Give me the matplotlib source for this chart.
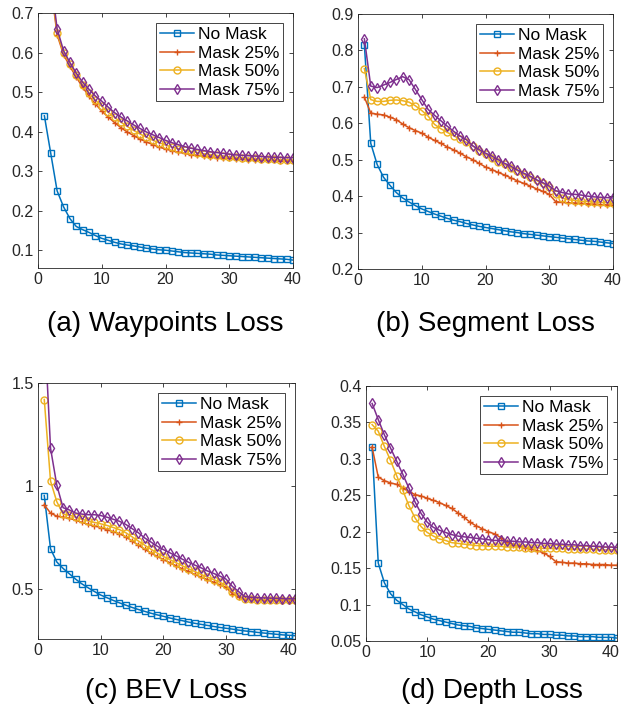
import numpy as np
import matplotlib
matplotlib.use("Agg")
import matplotlib.pyplot as plt
from matplotlib.ticker import FormatStrFormatter

plt.rcParams["font.family"] = ["Liberation Sans", "DejaVu Sans"]

labels = ['No Mask', 'Mask 25%', 'Mask 50%', 'Mask 75%']
colors = ['#0072BD', '#D95319', '#EDB120', '#7E2F8E']
markers = ['s', '+', 'o', 'd']

# (a) Waypoints Loss, epochs 1..40
wp_none = [0.44, 0.345, 0.25, 0.21, 0.18, 0.16, 0.152, 0.145, 0.137, 0.13,
           0.125, 0.12, 0.116, 0.113, 0.111, 0.108, 0.105, 0.103, 0.101, 0.1,
           0.098, 0.096, 0.094, 0.093, 0.092, 0.091, 0.09, 0.088, 0.087, 0.086,
           0.085, 0.084, 0.083, 0.082, 0.081, 0.08, 0.079, 0.078, 0.077, 0.075]
wp_25 = [0.95, 0.77, 0.645, 0.595, 0.565, 0.538, 0.512, 0.49, 0.47, 0.452,
         0.437, 0.423, 0.41, 0.399, 0.39, 0.381, 0.374, 0.367, 0.361, 0.356,
         0.352, 0.348, 0.345, 0.342, 0.34, 0.338, 0.336, 0.334, 0.333, 0.332,
         0.331, 0.33, 0.329, 0.329, 0.328, 0.327, 0.327, 0.326, 0.326, 0.325]
wp_50 = [0.96, 0.78, 0.65, 0.6, 0.57, 0.542, 0.518, 0.498, 0.48, 0.464,
         0.449, 0.436, 0.424, 0.413, 0.403, 0.394, 0.386, 0.378, 0.372, 0.366,
         0.361, 0.357, 0.353, 0.35, 0.347, 0.344, 0.342, 0.34, 0.338, 0.336,
         0.335, 0.334, 0.333, 0.332, 0.331, 0.33, 0.33, 0.329, 0.329, 0.328]
wp_75 = [0.97, 0.79, 0.66, 0.605, 0.575, 0.548, 0.525, 0.507, 0.49, 0.477,
         0.462, 0.448, 0.437, 0.427, 0.417, 0.408, 0.399, 0.392, 0.385, 0.378,
         0.372, 0.367, 0.362, 0.358, 0.355, 0.352, 0.349, 0.347, 0.345, 0.343,
         0.341, 0.34, 0.339, 0.338, 0.337, 0.336, 0.335, 0.335, 0.334, 0.334]

# (b) Segment Loss, epochs 1..40
seg_none = [0.815, 0.545, 0.487, 0.452, 0.43, 0.41, 0.395, 0.384, 0.374, 0.365,
            0.358, 0.351, 0.345, 0.339, 0.334, 0.33, 0.325, 0.321, 0.317, 0.314,
            0.311, 0.308, 0.305, 0.302, 0.3, 0.297, 0.295, 0.293, 0.291, 0.289,
            0.287, 0.285, 0.283, 0.281, 0.279, 0.277, 0.276, 0.274, 0.272, 0.27]
seg_25 = [0.672, 0.628, 0.625, 0.623, 0.617, 0.61, 0.598, 0.588, 0.58, 0.573,
          0.562, 0.553, 0.545, 0.535, 0.527, 0.518, 0.508, 0.5, 0.49, 0.48,
          0.473, 0.465, 0.458, 0.45, 0.442, 0.435, 0.428, 0.42, 0.413, 0.405,
          0.385, 0.383, 0.382, 0.381, 0.38, 0.379, 0.378, 0.377, 0.376, 0.375]
seg_50 = [0.75, 0.665, 0.66, 0.66, 0.663, 0.664, 0.662, 0.658, 0.648, 0.635,
          0.62, 0.597, 0.585, 0.575, 0.566, 0.556, 0.548, 0.538, 0.525, 0.515,
          0.505, 0.495, 0.487, 0.478, 0.47, 0.46, 0.452, 0.443, 0.435, 0.425,
          0.405, 0.395, 0.39, 0.388, 0.386, 0.385, 0.384, 0.383, 0.382, 0.38]
seg_75 = [0.832, 0.702, 0.698, 0.705, 0.712, 0.72, 0.728, 0.72, 0.693, 0.665,
          0.638, 0.622, 0.607, 0.592, 0.578, 0.565, 0.555, 0.538, 0.528, 0.518,
          0.51, 0.5, 0.49, 0.482, 0.472, 0.463, 0.455, 0.445, 0.437, 0.428,
          0.415, 0.41, 0.406, 0.405, 0.403, 0.4, 0.398, 0.397, 0.396, 0.395]

# (c) BEV Loss, epochs 1..41
bev_none = [0.955, 0.697, 0.633, 0.602, 0.576, 0.55, 0.527, 0.508, 0.49, 0.473,
            0.46, 0.447, 0.435, 0.424, 0.413, 0.403, 0.394, 0.385, 0.377, 0.37,
            0.362, 0.355, 0.349, 0.342, 0.336, 0.331, 0.326, 0.321, 0.316, 0.312,
            0.308, 0.303, 0.299, 0.296, 0.292, 0.289, 0.286, 0.283, 0.28, 0.278, 0.276]
bev_25 = [0.91, 0.87, 0.855, 0.85, 0.845, 0.835, 0.825, 0.815, 0.808, 0.8,
          0.79, 0.78, 0.77, 0.755, 0.735, 0.715, 0.695, 0.677, 0.66, 0.645,
          0.63, 0.615, 0.6, 0.587, 0.573, 0.56, 0.548, 0.535, 0.523, 0.51,
          0.48, 0.462, 0.455, 0.452, 0.451, 0.45, 0.45, 0.449, 0.449, 0.448, 0.448]
bev_50 = [1.42, 1.025, 0.925, 0.865, 0.86, 0.85, 0.84, 0.832, 0.825, 0.818,
          0.81, 0.8, 0.79, 0.775, 0.755, 0.735, 0.715, 0.695, 0.677, 0.66,
          0.645, 0.63, 0.615, 0.6, 0.587, 0.573, 0.56, 0.548, 0.535, 0.52,
          0.49, 0.47, 0.455, 0.452, 0.451, 0.45, 0.45, 0.45, 0.449, 0.449, 0.449]
bev_75 = [1.8, 1.184, 1.005, 0.896, 0.885, 0.87, 0.865, 0.862, 0.862, 0.858,
          0.85, 0.84, 0.83, 0.815, 0.795, 0.775, 0.75, 0.73, 0.71, 0.693,
          0.678, 0.663, 0.647, 0.632, 0.618, 0.605, 0.59, 0.578, 0.565, 0.55,
          0.515, 0.49, 0.465, 0.462, 0.46, 0.459, 0.458, 0.457, 0.456, 0.455, 0.455]

# (d) Depth Loss, epochs 1..41
dep_none = [0.316, 0.157, 0.13, 0.115, 0.106, 0.1, 0.094, 0.09, 0.086, 0.083,
            0.08, 0.078, 0.076, 0.074, 0.072, 0.071, 0.07, 0.068, 0.067, 0.066,
            0.065, 0.064, 0.063, 0.062, 0.062, 0.061, 0.06, 0.06, 0.059, 0.059,
            0.058, 0.058, 0.057, 0.057, 0.056, 0.056, 0.056, 0.055, 0.055, 0.055, 0.054]
dep_25 = [0.316, 0.275, 0.27, 0.267, 0.265, 0.26, 0.255, 0.251, 0.249, 0.246,
          0.243, 0.24, 0.236, 0.232, 0.226, 0.22, 0.213, 0.208, 0.204, 0.2,
          0.197, 0.192, 0.186, 0.182, 0.18, 0.178, 0.176, 0.174, 0.171, 0.166,
          0.159, 0.158, 0.157, 0.157, 0.156, 0.156, 0.155, 0.155, 0.155, 0.154, 0.154]
dep_50 = [0.347, 0.338, 0.317, 0.298, 0.277, 0.257, 0.236, 0.219, 0.207, 0.199,
          0.194, 0.19, 0.188, 0.185, 0.184, 0.183, 0.182, 0.181, 0.181, 0.18,
          0.18, 0.18, 0.179, 0.179, 0.179, 0.178, 0.178, 0.178, 0.177, 0.177,
          0.177, 0.177, 0.176, 0.176, 0.176, 0.176, 0.176, 0.175, 0.175, 0.175, 0.175]
dep_75 = [0.376, 0.354, 0.333, 0.315, 0.297, 0.279, 0.26, 0.241, 0.225, 0.213,
          0.206, 0.202, 0.199, 0.196, 0.194, 0.193, 0.192, 0.191, 0.19, 0.189,
          0.188, 0.188, 0.187, 0.187, 0.186, 0.186, 0.185, 0.185, 0.184, 0.184,
          0.183, 0.183, 0.182, 0.182, 0.181, 0.181, 0.18, 0.18, 0.179, 0.179, 0.178]

panels = [
    ('(a) Waypoints Loss', [wp_none, wp_25, wp_50, wp_75], (0, 40), (0.055, 0.7),
     np.arange(0.1, 0.71, 0.1), '%.1f'),
    ('(b) Segment Loss', [seg_none, seg_25, seg_50, seg_75], (0, 40), (0.2, 0.9),
     np.arange(0.2, 0.91, 0.1), '%.1f'),
    ('(c) BEV Loss', [bev_none, bev_25, bev_50, bev_75], (0, 41), (0.26, 1.5),
     [0.5, 1.0, 1.5], '%g'),
    ('(d) Depth Loss', [dep_none, dep_25, dep_50, dep_75], (0, 41), (0.05, 0.4),
     np.arange(0.05, 0.401, 0.05), '%g'),
]

# axes boxes in pixels: left, right, top, bottom
W, H = 622, 708
boxes = [(38, 293, 13, 268), (358, 613, 14, 269),
         (38, 295, 383, 639), (366, 617, 386, 641)]
title_y = [324, 324, 691, 691]

fig = plt.figure(figsize=(W / 100, H / 100), dpi=100)
axc = '#262626'
for (title, series, xl, yl, yt, fmt), (l, r, t, b), ty in zip(panels, boxes, title_y):
    ax = fig.add_axes([l / W, 1 - b / H, (r - l) / W, (b - t) / H])
    for y, lab, c, m in zip(series, labels, colors, markers):
        x = np.arange(1, len(y) + 1)
        ax.plot(x, y, color=c, marker=m, markersize=5 if m != 's' else 4.5,
                markerfacecolor='none', markeredgewidth=1, linewidth=1.1, label=lab)
    ax.set_xlim(*xl)
    ax.set_ylim(*yl)
    ax.set_xticks([0, 10, 20, 30, 40])
    ax.set_yticks(yt)
    ax.yaxis.set_major_formatter(FormatStrFormatter(fmt))
    ax.tick_params(direction='in', top=True, right=True, length=3, width=0.6,
                   colors=axc, labelsize=11.5, pad=3)
    for s in ax.spines.values():
        s.set_color(axc)
        s.set_linewidth(0.6)
    leg = ax.legend(loc='upper right', fontsize=12.5, frameon=True, fancybox=False,
                    edgecolor=axc, framealpha=1, handlelength=2.0, handletextpad=0.2,
                    borderpad=0.2, labelspacing=0.2, borderaxespad=0.6)
    leg.get_frame().set_linewidth(0.6)
    fig.text((l + r) / 2 / W, 1 - ty / H, title, ha='center', va='center',
             fontsize=20, color='black')

fig.savefig('out.png', dpi=100)
